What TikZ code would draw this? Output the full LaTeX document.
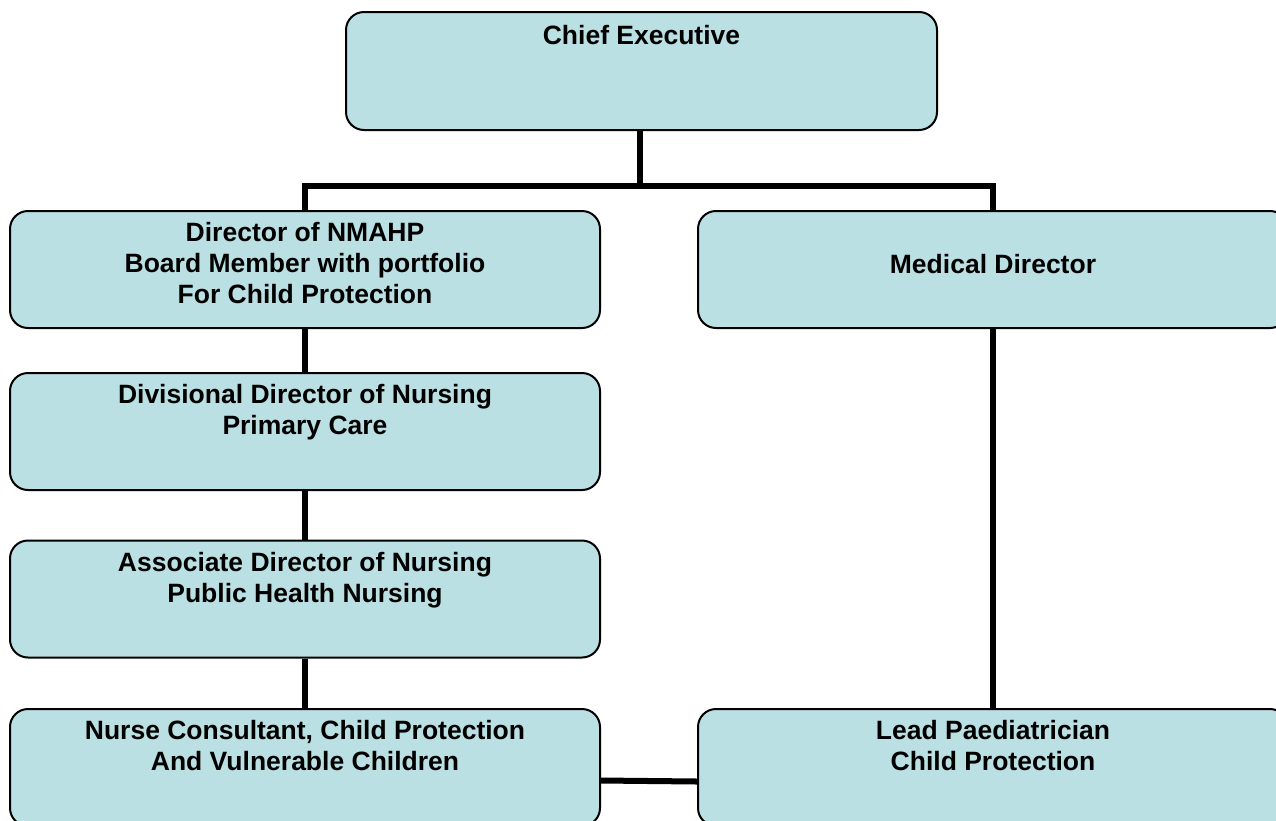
\documentclass[tikz,border=0pt]{standalone}
\usepackage{fontspec}
\setmainfont{Liberation Sans}
\usepackage{tikz}
\usetikzlibrary{positioning}
\usepackage{xcolor}
\definecolor{orgfill}{RGB}{187,224,227}
\tikzstyle{orgbox} = [rectangle, rounded corners=18pt, draw=black, line width=2pt, fill=orgfill, minimum width=590pt, minimum height=117pt, inner sep=0pt]
\tikzstyle{orgtext} = [align=center, inner sep=0pt, font=\bfseries\fontsize{26.5}{31}\selectfont]
\tikzstyle{link} = [line width=6pt, color=black]

\begin{document}
\begin{tikzpicture}[x=1pt, y=-1pt]
\clip (0,0) rectangle (1276,820);
% Boxes
\node (ceo) [orgbox, minimum width=591pt, minimum height=118pt] at (641.5,71) {};
\node (nmahp) [orgbox] at (305,269.5) {};
\node (med) [orgbox] at (993,269.5) {};
\node (divn) [orgbox] at (305,431.5) {};
\node (assoc) [orgbox] at (305,599) {};
\node (nurse) [orgbox] at (305,767.5) {};
\node (lead) [orgbox] at (993,767.5) {};

% Labels
\node (ceo-t) [orgtext, below=14.5pt of ceo.north] {Chief Executive};
\node (nmahp-t) [orgtext, below=12.5pt of nmahp.north] {Director of NMAHP\\Board Member with portfolio\\For Child Protection};
\node (med-t) [orgtext, below=44.5pt of med.north] {Medical Director};
\node (divn-t) [orgtext, below=12.5pt of divn.north] {Divisional Director of Nursing\\Primary Care};
\node (assoc-t) [orgtext, below=12.5pt of assoc.north] {Associate Director of Nursing\\Public Health Nursing};
\node (nurse-t) [orgtext, below=12.5pt of nurse.north] {Nurse Consultant, Child Protection\\And Vulnerable Children};
\node (lead-t) [orgtext, below=12.5pt of lead.north] {Lead Paediatrician\\Child Protection};

% Connectors
\coordinate (split) at (640,186);
\draw[link] ([xshift=-1.5pt]ceo.south) -- (split);
\draw[link] (nmahp.north) |- (split) -| (med.north);
\draw[link] (nmahp.south) -- (divn.north);
\draw[link] (divn.south) -- (assoc.north);
\draw[link] (assoc.south) -- (nurse.north);
\draw[link] (med.south) -- (lead.north);
\draw[link] ([yshift=-13pt]nurse.east) -- ([yshift=-14pt]lead.west);
\end{tikzpicture}
\end{document}
